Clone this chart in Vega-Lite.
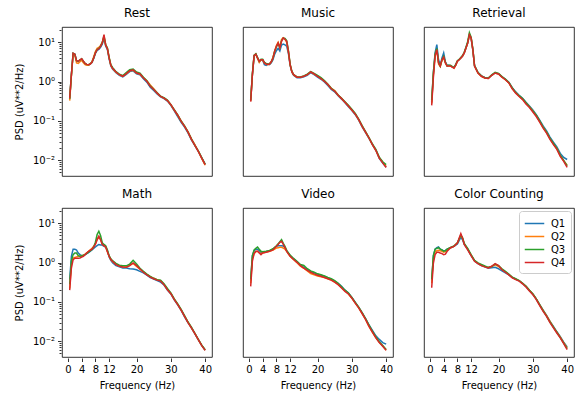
{
"$schema":"https://vega.github.io/schema/vega-lite/v6.json",
"padding":{"left":14,"top":6,"right":5,"bottom":5},
"data":{"values":[
{"p":"Rest","f":0.5,"Q1":0.36,"Q2":0.33,"Q3":0.37,"Q4":0.38},
{"p":"Rest","f":1,"Q1":1.5,"Q2":1.4,"Q3":1.5,"Q4":1.5},
{"p":"Rest","f":1.5,"Q1":5.2,"Q2":5.0,"Q3":5.3,"Q4":5.3},
{"p":"Rest","f":2,"Q1":5.0,"Q2":4.8,"Q3":5.0,"Q4":5.0},
{"p":"Rest","f":2.5,"Q1":3.4,"Q2":3.0,"Q3":3.4,"Q4":3.4},
{"p":"Rest","f":3,"Q1":3.2,"Q2":2.9,"Q3":3.3,"Q4":3.3},
{"p":"Rest","f":3.5,"Q1":3.5,"Q2":3.2,"Q3":3.6,"Q4":3.6},
{"p":"Rest","f":4,"Q1":3.7,"Q2":3.5,"Q3":3.8,"Q4":3.8},
{"p":"Rest","f":4.5,"Q1":3.2,"Q2":3.0,"Q3":3.3,"Q4":3.3},
{"p":"Rest","f":5,"Q1":2.8,"Q2":2.7,"Q3":2.9,"Q4":2.9},
{"p":"Rest","f":5.5,"Q1":2.7,"Q2":2.6,"Q3":2.75,"Q4":2.75},
{"p":"Rest","f":6,"Q1":2.65,"Q2":2.6,"Q3":2.7,"Q4":2.7},
{"p":"Rest","f":6.5,"Q1":2.8,"Q2":2.8,"Q3":2.85,"Q4":2.8},
{"p":"Rest","f":7,"Q1":3.1,"Q2":3.2,"Q3":3.1,"Q4":3.1},
{"p":"Rest","f":7.5,"Q1":3.9,"Q2":4.3,"Q3":4.0,"Q4":4.0},
{"p":"Rest","f":8,"Q1":5.2,"Q2":5.8,"Q3":5.4,"Q4":5.4},
{"p":"Rest","f":8.5,"Q1":6.2,"Q2":7.0,"Q3":6.6,"Q4":6.5},
{"p":"Rest","f":9,"Q1":6.6,"Q2":7.4,"Q3":7.0,"Q4":6.9},
{"p":"Rest","f":9.5,"Q1":7.5,"Q2":8.3,"Q3":8.0,"Q4":7.9},
{"p":"Rest","f":10,"Q1":9.0,"Q2":10.2,"Q3":9.8,"Q4":9.6},
{"p":"Rest","f":10.5,"Q1":12.5,"Q2":13.5,"Q3":14.5,"Q4":15.6},
{"p":"Rest","f":11,"Q1":8.0,"Q2":8.6,"Q3":8.8,"Q4":8.4},
{"p":"Rest","f":11.5,"Q1":6.5,"Q2":7.0,"Q3":7.2,"Q4":6.9},
{"p":"Rest","f":12,"Q1":3.8,"Q2":4.1,"Q3":4.1,"Q4":4.0},
{"p":"Rest","f":12.5,"Q1":2.5,"Q2":2.6,"Q3":2.7,"Q4":2.6},
{"p":"Rest","f":13,"Q1":2.1,"Q2":2.2,"Q3":2.3,"Q4":2.2},
{"p":"Rest","f":14,"Q1":1.7,"Q2":1.75,"Q3":1.8,"Q4":1.76},
{"p":"Rest","f":15,"Q1":1.45,"Q2":1.5,"Q3":1.55,"Q4":1.5},
{"p":"Rest","f":16,"Q1":1.32,"Q2":1.37,"Q3":1.42,"Q4":1.37},
{"p":"Rest","f":17,"Q1":1.52,"Q2":1.6,"Q3":1.7,"Q4":1.6},
{"p":"Rest","f":18,"Q1":1.8,"Q2":1.88,"Q3":2.0,"Q4":1.9},
{"p":"Rest","f":19,"Q1":1.88,"Q2":1.95,"Q3":2.1,"Q4":2.0},
{"p":"Rest","f":20,"Q1":1.58,"Q2":1.65,"Q3":1.75,"Q4":1.66},
{"p":"Rest","f":21,"Q1":1.5,"Q2":1.56,"Q3":1.65,"Q4":1.57},
{"p":"Rest","f":22,"Q1":1.18,"Q2":1.26,"Q3":1.3,"Q4":1.24},
{"p":"Rest","f":23,"Q1":0.97,"Q2":1.06,"Q3":1.05,"Q4":1.02},
{"p":"Rest","f":24,"Q1":0.72,"Q2":0.82,"Q3":0.78,"Q4":0.76},
{"p":"Rest","f":25,"Q1":0.6,"Q2":0.66,"Q3":0.64,"Q4":0.63},
{"p":"Rest","f":26,"Q1":0.49,"Q2":0.52,"Q3":0.52,"Q4":0.51},
{"p":"Rest","f":27,"Q1":0.41,"Q2":0.42,"Q3":0.43,"Q4":0.42},
{"p":"Rest","f":28,"Q1":0.37,"Q2":0.38,"Q3":0.39,"Q4":0.38},
{"p":"Rest","f":29,"Q1":0.32,"Q2":0.33,"Q3":0.34,"Q4":0.33},
{"p":"Rest","f":30,"Q1":0.25,"Q2":0.26,"Q3":0.26,"Q4":0.26},
{"p":"Rest","f":31,"Q1":0.18,"Q2":0.19,"Q3":0.195,"Q4":0.19},
{"p":"Rest","f":32,"Q1":0.13,"Q2":0.14,"Q3":0.142,"Q4":0.14},
{"p":"Rest","f":33,"Q1":0.093,"Q2":0.1,"Q3":0.1,"Q4":0.098},
{"p":"Rest","f":34,"Q1":0.07,"Q2":0.074,"Q3":0.075,"Q4":0.073},
{"p":"Rest","f":35,"Q1":0.05,"Q2":0.053,"Q3":0.053,"Q4":0.052},
{"p":"Rest","f":36,"Q1":0.033,"Q2":0.035,"Q3":0.035,"Q4":0.034},
{"p":"Rest","f":37,"Q1":0.024,"Q2":0.025,"Q3":0.024,"Q4":0.024},
{"p":"Rest","f":38,"Q1":0.017,"Q2":0.017,"Q3":0.0175,"Q4":0.017},
{"p":"Rest","f":39,"Q1":0.0116,"Q2":0.0112,"Q3":0.0118,"Q4":0.0114},
{"p":"Rest","f":40,"Q1":0.0079,"Q2":0.0075,"Q3":0.008,"Q4":0.0078},
{"p":"Music","f":0.5,"Q1":0.33,"Q2":0.32,"Q3":0.34,"Q4":0.31},
{"p":"Music","f":1,"Q1":1.5,"Q2":1.5,"Q3":1.6,"Q4":1.5},
{"p":"Music","f":1.5,"Q1":4.5,"Q2":4.6,"Q3":4.7,"Q4":4.6},
{"p":"Music","f":2,"Q1":5.0,"Q2":5.0,"Q3":5.1,"Q4":5.0},
{"p":"Music","f":2.5,"Q1":4.0,"Q2":3.9,"Q3":4.1,"Q4":4.0},
{"p":"Music","f":3,"Q1":3.2,"Q2":3.1,"Q3":3.3,"Q4":3.3},
{"p":"Music","f":3.5,"Q1":3.5,"Q2":3.6,"Q3":3.7,"Q4":3.6},
{"p":"Music","f":4,"Q1":3.5,"Q2":3.6,"Q3":3.7,"Q4":3.6},
{"p":"Music","f":4.5,"Q1":2.7,"Q2":3.0,"Q3":3.1,"Q4":3.0},
{"p":"Music","f":5,"Q1":2.6,"Q2":2.8,"Q3":2.9,"Q4":2.8},
{"p":"Music","f":5.5,"Q1":2.8,"Q2":2.7,"Q3":2.8,"Q4":2.75},
{"p":"Music","f":6,"Q1":2.7,"Q2":2.8,"Q3":2.85,"Q4":2.8},
{"p":"Music","f":6.5,"Q1":3.0,"Q2":3.2,"Q3":3.2,"Q4":3.2},
{"p":"Music","f":7,"Q1":3.6,"Q2":4.1,"Q3":4.0,"Q4":4.0},
{"p":"Music","f":7.5,"Q1":5.0,"Q2":6.0,"Q3":5.9,"Q4":5.9},
{"p":"Music","f":8,"Q1":6.1,"Q2":8.3,"Q3":7.6,"Q4":7.9},
{"p":"Music","f":8.5,"Q1":7.0,"Q2":10.0,"Q3":9.2,"Q4":9.6},
{"p":"Music","f":9,"Q1":6.0,"Q2":7.6,"Q3":7.4,"Q4":7.2},
{"p":"Music","f":9.5,"Q1":8.5,"Q2":11.8,"Q3":11.0,"Q4":10.6},
{"p":"Music","f":10,"Q1":9.0,"Q2":13.0,"Q3":12.8,"Q4":12.9},
{"p":"Music","f":10.5,"Q1":8.6,"Q2":12.0,"Q3":12.5,"Q4":12.0},
{"p":"Music","f":11,"Q1":8.0,"Q2":10.0,"Q3":11.0,"Q4":10.6},
{"p":"Music","f":11.5,"Q1":5.2,"Q2":5.8,"Q3":6.2,"Q4":5.9},
{"p":"Music","f":12,"Q1":2.6,"Q2":2.7,"Q3":2.8,"Q4":2.7},
{"p":"Music","f":12.5,"Q1":1.75,"Q2":1.8,"Q3":1.85,"Q4":1.8},
{"p":"Music","f":13,"Q1":1.45,"Q2":1.5,"Q3":1.52,"Q4":1.5},
{"p":"Music","f":14,"Q1":1.26,"Q2":1.3,"Q3":1.32,"Q4":1.3},
{"p":"Music","f":15,"Q1":1.26,"Q2":1.3,"Q3":1.32,"Q4":1.3},
{"p":"Music","f":16,"Q1":1.33,"Q2":1.38,"Q3":1.4,"Q4":1.37},
{"p":"Music","f":17,"Q1":1.45,"Q2":1.5,"Q3":1.55,"Q4":1.5},
{"p":"Music","f":18,"Q1":1.7,"Q2":1.78,"Q3":1.8,"Q4":1.76},
{"p":"Music","f":19,"Q1":1.5,"Q2":1.56,"Q3":1.62,"Q4":1.57},
{"p":"Music","f":20,"Q1":1.3,"Q2":1.38,"Q3":1.45,"Q4":1.37},
{"p":"Music","f":21,"Q1":1.15,"Q2":1.2,"Q3":1.26,"Q4":1.2},
{"p":"Music","f":22,"Q1":0.98,"Q2":1.04,"Q3":1.06,"Q4":1.02},
{"p":"Music","f":23,"Q1":0.8,"Q2":0.86,"Q3":0.86,"Q4":0.84},
{"p":"Music","f":24,"Q1":0.63,"Q2":0.68,"Q3":0.68,"Q4":0.66},
{"p":"Music","f":25,"Q1":0.55,"Q2":0.59,"Q3":0.58,"Q4":0.57},
{"p":"Music","f":26,"Q1":0.44,"Q2":0.46,"Q3":0.46,"Q4":0.45},
{"p":"Music","f":27,"Q1":0.36,"Q2":0.38,"Q3":0.38,"Q4":0.37},
{"p":"Music","f":28,"Q1":0.29,"Q2":0.3,"Q3":0.31,"Q4":0.3},
{"p":"Music","f":29,"Q1":0.23,"Q2":0.24,"Q3":0.25,"Q4":0.24},
{"p":"Music","f":30,"Q1":0.185,"Q2":0.19,"Q3":0.2,"Q4":0.19},
{"p":"Music","f":31,"Q1":0.145,"Q2":0.15,"Q3":0.155,"Q4":0.15},
{"p":"Music","f":32,"Q1":0.105,"Q2":0.108,"Q3":0.112,"Q4":0.108},
{"p":"Music","f":33,"Q1":0.071,"Q2":0.074,"Q3":0.076,"Q4":0.073},
{"p":"Music","f":34,"Q1":0.051,"Q2":0.052,"Q3":0.054,"Q4":0.052},
{"p":"Music","f":35,"Q1":0.036,"Q2":0.037,"Q3":0.038,"Q4":0.037},
{"p":"Music","f":36,"Q1":0.025,"Q2":0.025,"Q3":0.026,"Q4":0.025},
{"p":"Music","f":37,"Q1":0.018,"Q2":0.018,"Q3":0.019,"Q4":0.018},
{"p":"Music","f":38,"Q1":0.0112,"Q2":0.0116,"Q3":0.012,"Q4":0.0114},
{"p":"Music","f":39,"Q1":0.0086,"Q2":0.009,"Q3":0.0092,"Q4":0.0086},
{"p":"Music","f":40,"Q1":0.0068,"Q2":0.007,"Q3":0.0078,"Q4":0.0066},
{"p":"Retrieval","f":0.5,"Q1":0.3,"Q2":0.28,"Q3":0.34,"Q4":0.25},
{"p":"Retrieval","f":1,"Q1":1.7,"Q2":1.5,"Q3":1.7,"Q4":1.3},
{"p":"Retrieval","f":1.5,"Q1":5.5,"Q2":4.6,"Q3":5.0,"Q4":4.5},
{"p":"Retrieval","f":2,"Q1":8.7,"Q2":6.5,"Q3":7.0,"Q4":6.5},
{"p":"Retrieval","f":2.5,"Q1":3.6,"Q2":2.8,"Q3":3.1,"Q4":3.0},
{"p":"Retrieval","f":3,"Q1":2.6,"Q2":2.4,"Q3":2.5,"Q4":2.5},
{"p":"Retrieval","f":3.5,"Q1":4.0,"Q2":3.5,"Q3":3.6,"Q4":3.6},
{"p":"Retrieval","f":4,"Q1":5.4,"Q2":4.1,"Q3":4.4,"Q4":4.2},
{"p":"Retrieval","f":4.5,"Q1":3.2,"Q2":3.0,"Q3":3.1,"Q4":3.0},
{"p":"Retrieval","f":5,"Q1":2.6,"Q2":2.5,"Q3":2.5,"Q4":2.5},
{"p":"Retrieval","f":5.5,"Q1":2.6,"Q2":2.5,"Q3":2.6,"Q4":2.5},
{"p":"Retrieval","f":6,"Q1":2.5,"Q2":2.5,"Q3":2.6,"Q4":2.5},
{"p":"Retrieval","f":6.5,"Q1":2.4,"Q2":2.4,"Q3":2.4,"Q4":2.35},
{"p":"Retrieval","f":7,"Q1":2.3,"Q2":2.2,"Q3":2.3,"Q4":2.2},
{"p":"Retrieval","f":7.5,"Q1":2.7,"Q2":2.6,"Q3":2.7,"Q4":2.6},
{"p":"Retrieval","f":8,"Q1":3.3,"Q2":3.3,"Q3":3.4,"Q4":3.3},
{"p":"Retrieval","f":8.5,"Q1":3.6,"Q2":3.6,"Q3":3.7,"Q4":3.6},
{"p":"Retrieval","f":9,"Q1":4.0,"Q2":4.0,"Q3":4.1,"Q4":4.0},
{"p":"Retrieval","f":9.5,"Q1":4.5,"Q2":4.5,"Q3":4.6,"Q4":4.5},
{"p":"Retrieval","f":10,"Q1":5.4,"Q2":5.4,"Q3":5.6,"Q4":5.4},
{"p":"Retrieval","f":10.5,"Q1":7.2,"Q2":7.2,"Q3":7.5,"Q4":7.2},
{"p":"Retrieval","f":11,"Q1":9.6,"Q2":9.6,"Q3":10.5,"Q4":9.6},
{"p":"Retrieval","f":11.5,"Q1":15.0,"Q2":15.5,"Q3":17.5,"Q4":15.6},
{"p":"Retrieval","f":12,"Q1":12.5,"Q2":12.8,"Q3":13.5,"Q4":12.9},
{"p":"Retrieval","f":12.5,"Q1":6.3,"Q2":6.5,"Q3":6.8,"Q4":6.5},
{"p":"Retrieval","f":13,"Q1":2.5,"Q2":2.5,"Q3":2.6,"Q4":2.5},
{"p":"Retrieval","f":14,"Q1":1.7,"Q2":1.66,"Q3":1.7,"Q4":1.66},
{"p":"Retrieval","f":15,"Q1":1.4,"Q2":1.37,"Q3":1.4,"Q4":1.37},
{"p":"Retrieval","f":16,"Q1":1.28,"Q2":1.24,"Q3":1.26,"Q4":1.24},
{"p":"Retrieval","f":17,"Q1":1.22,"Q2":1.2,"Q3":1.24,"Q4":1.2},
{"p":"Retrieval","f":18,"Q1":1.45,"Q2":1.45,"Q3":1.5,"Q4":1.45},
{"p":"Retrieval","f":19,"Q1":1.66,"Q2":1.66,"Q3":1.72,"Q4":1.66},
{"p":"Retrieval","f":20,"Q1":1.58,"Q2":1.57,"Q3":1.62,"Q4":1.57},
{"p":"Retrieval","f":21,"Q1":1.33,"Q2":1.3,"Q3":1.34,"Q4":1.3},
{"p":"Retrieval","f":22,"Q1":1.15,"Q2":1.12,"Q3":1.16,"Q4":1.12},
{"p":"Retrieval","f":23,"Q1":0.97,"Q2":0.93,"Q3":0.96,"Q4":0.93},
{"p":"Retrieval","f":24,"Q1":0.7,"Q2":0.67,"Q3":0.69,"Q4":0.66},
{"p":"Retrieval","f":25,"Q1":0.55,"Q2":0.52,"Q3":0.53,"Q4":0.51},
{"p":"Retrieval","f":26,"Q1":0.45,"Q2":0.43,"Q3":0.44,"Q4":0.42},
{"p":"Retrieval","f":27,"Q1":0.38,"Q2":0.36,"Q3":0.37,"Q4":0.35},
{"p":"Retrieval","f":28,"Q1":0.3,"Q2":0.28,"Q3":0.29,"Q4":0.27},
{"p":"Retrieval","f":29,"Q1":0.24,"Q2":0.23,"Q3":0.23,"Q4":0.22},
{"p":"Retrieval","f":30,"Q1":0.19,"Q2":0.18,"Q3":0.18,"Q4":0.17},
{"p":"Retrieval","f":31,"Q1":0.145,"Q2":0.135,"Q3":0.14,"Q4":0.13},
{"p":"Retrieval","f":32,"Q1":0.105,"Q2":0.097,"Q3":0.1,"Q4":0.094},
{"p":"Retrieval","f":33,"Q1":0.075,"Q2":0.069,"Q3":0.07,"Q4":0.066},
{"p":"Retrieval","f":34,"Q1":0.056,"Q2":0.051,"Q3":0.052,"Q4":0.049},
{"p":"Retrieval","f":35,"Q1":0.039,"Q2":0.035,"Q3":0.036,"Q4":0.034},
{"p":"Retrieval","f":36,"Q1":0.029,"Q2":0.026,"Q3":0.027,"Q4":0.025},
{"p":"Retrieval","f":37,"Q1":0.022,"Q2":0.02,"Q3":0.02,"Q4":0.019},
{"p":"Retrieval","f":38,"Q1":0.015,"Q2":0.013,"Q3":0.0135,"Q4":0.0126},
{"p":"Retrieval","f":39,"Q1":0.0118,"Q2":0.0098,"Q3":0.01,"Q4":0.0094},
{"p":"Retrieval","f":40,"Q1":0.0105,"Q2":0.0075,"Q3":0.0072,"Q4":0.0066},
{"p":"Math","f":0.5,"Q1":0.37,"Q2":0.22,"Q3":0.28,"Q4":0.2},
{"p":"Math","f":1,"Q1":1.45,"Q2":0.9,"Q3":1.1,"Q4":0.73},
{"p":"Math","f":1.5,"Q1":2.2,"Q2":1.3,"Q3":1.6,"Q4":1.19},
{"p":"Math","f":2,"Q1":2.2,"Q2":1.35,"Q3":1.76,"Q4":1.3},
{"p":"Math","f":2.5,"Q1":2.1,"Q2":1.4,"Q3":1.76,"Q4":1.3},
{"p":"Math","f":3,"Q1":1.76,"Q2":1.45,"Q3":1.5,"Q4":1.3},
{"p":"Math","f":3.5,"Q1":1.6,"Q2":1.45,"Q3":1.45,"Q4":1.32},
{"p":"Math","f":4,"Q1":1.5,"Q2":1.5,"Q3":1.5,"Q4":1.39},
{"p":"Math","f":4.5,"Q1":1.52,"Q2":1.55,"Q3":1.55,"Q4":1.45},
{"p":"Math","f":5,"Q1":1.6,"Q2":1.65,"Q3":1.6,"Q4":1.6},
{"p":"Math","f":6,"Q1":1.8,"Q2":1.95,"Q3":1.85,"Q4":1.94},
{"p":"Math","f":7,"Q1":2.1,"Q2":2.3,"Q3":2.15,"Q4":2.2},
{"p":"Math","f":7.5,"Q1":2.3,"Q2":2.6,"Q3":2.5,"Q4":2.5},
{"p":"Math","f":8,"Q1":2.5,"Q2":3.0,"Q3":3.3,"Q4":2.9},
{"p":"Math","f":8.5,"Q1":2.7,"Q2":3.9,"Q3":5.2,"Q4":3.8},
{"p":"Math","f":9,"Q1":2.9,"Q2":4.6,"Q3":6.3,"Q4":4.7},
{"p":"Math","f":9.5,"Q1":2.8,"Q2":3.9,"Q3":4.9,"Q4":3.8},
{"p":"Math","f":10,"Q1":2.8,"Q2":3.0,"Q3":3.2,"Q4":2.9},
{"p":"Math","f":10.5,"Q1":2.6,"Q2":2.7,"Q3":2.9,"Q4":2.7},
{"p":"Math","f":11,"Q1":2.5,"Q2":2.5,"Q3":2.7,"Q4":2.5},
{"p":"Math","f":11.5,"Q1":2.0,"Q2":1.9,"Q3":2.1,"Q4":1.9},
{"p":"Math","f":12,"Q1":1.4,"Q2":1.45,"Q3":1.5,"Q4":1.45},
{"p":"Math","f":12.5,"Q1":1.15,"Q2":1.2,"Q3":1.25,"Q4":1.2},
{"p":"Math","f":13,"Q1":1.0,"Q2":1.08,"Q3":1.12,"Q4":1.08},
{"p":"Math","f":14,"Q1":0.84,"Q2":0.9,"Q3":0.96,"Q4":0.89},
{"p":"Math","f":15,"Q1":0.78,"Q2":0.82,"Q3":0.86,"Q4":0.81},
{"p":"Math","f":16,"Q1":0.73,"Q2":0.79,"Q3":0.83,"Q4":0.78},
{"p":"Math","f":17,"Q1":0.73,"Q2":0.77,"Q3":0.83,"Q4":0.76},
{"p":"Math","f":18,"Q1":0.7,"Q2":0.85,"Q3":0.92,"Q4":0.84},
{"p":"Math","f":19,"Q1":0.69,"Q2":0.96,"Q3":1.15,"Q4":0.98},
{"p":"Math","f":20,"Q1":0.66,"Q2":0.8,"Q3":0.92,"Q4":0.84},
{"p":"Math","f":21,"Q1":0.6,"Q2":0.68,"Q3":0.72,"Q4":0.69},
{"p":"Math","f":22,"Q1":0.55,"Q2":0.58,"Q3":0.6,"Q4":0.57},
{"p":"Math","f":23,"Q1":0.48,"Q2":0.5,"Q3":0.51,"Q4":0.49},
{"p":"Math","f":24,"Q1":0.42,"Q2":0.44,"Q3":0.45,"Q4":0.43},
{"p":"Math","f":25,"Q1":0.38,"Q2":0.4,"Q3":0.4,"Q4":0.39},
{"p":"Math","f":26,"Q1":0.35,"Q2":0.37,"Q3":0.37,"Q4":0.36},
{"p":"Math","f":27,"Q1":0.32,"Q2":0.35,"Q3":0.36,"Q4":0.34},
{"p":"Math","f":28,"Q1":0.27,"Q2":0.28,"Q3":0.29,"Q4":0.276},
{"p":"Math","f":29,"Q1":0.2,"Q2":0.21,"Q3":0.22,"Q4":0.205},
{"p":"Math","f":30,"Q1":0.16,"Q2":0.165,"Q3":0.17,"Q4":0.163},
{"p":"Math","f":31,"Q1":0.113,"Q2":0.118,"Q3":0.12,"Q4":0.115},
{"p":"Math","f":32,"Q1":0.085,"Q2":0.088,"Q3":0.09,"Q4":0.086},
{"p":"Math","f":33,"Q1":0.061,"Q2":0.063,"Q3":0.065,"Q4":0.062},
{"p":"Math","f":34,"Q1":0.042,"Q2":0.044,"Q3":0.045,"Q4":0.043},
{"p":"Math","f":35,"Q1":0.03,"Q2":0.031,"Q3":0.031,"Q4":0.03},
{"p":"Math","f":36,"Q1":0.022,"Q2":0.022,"Q3":0.023,"Q4":0.022},
{"p":"Math","f":37,"Q1":0.0156,"Q2":0.016,"Q3":0.016,"Q4":0.0156},
{"p":"Math","f":38,"Q1":0.011,"Q2":0.011,"Q3":0.0113,"Q4":0.011},
{"p":"Math","f":39,"Q1":0.0079,"Q2":0.008,"Q3":0.008,"Q4":0.0078},
{"p":"Math","f":40,"Q1":0.006,"Q2":0.006,"Q3":0.0061,"Q4":0.0059},
{"p":"Video","f":0.5,"Q1":0.35,"Q2":0.3,"Q3":0.38,"Q4":0.25},
{"p":"Video","f":1,"Q1":1.5,"Q2":1.3,"Q3":1.5,"Q4":1.1},
{"p":"Video","f":1.5,"Q1":2.0,"Q2":1.7,"Q3":2.1,"Q4":1.7},
{"p":"Video","f":2,"Q1":2.2,"Q2":1.9,"Q3":2.3,"Q4":1.94},
{"p":"Video","f":2.5,"Q1":2.2,"Q2":1.95,"Q3":2.5,"Q4":1.94},
{"p":"Video","f":3,"Q1":2.0,"Q2":1.8,"Q3":2.2,"Q4":1.76},
{"p":"Video","f":3.5,"Q1":1.8,"Q2":1.7,"Q3":1.95,"Q4":1.6},
{"p":"Video","f":4,"Q1":1.85,"Q2":1.75,"Q3":1.9,"Q4":1.76},
{"p":"Video","f":5,"Q1":1.9,"Q2":1.85,"Q3":1.95,"Q4":1.83},
{"p":"Video","f":6,"Q1":2.0,"Q2":1.95,"Q3":2.05,"Q4":1.94},
{"p":"Video","f":7,"Q1":2.2,"Q2":2.1,"Q3":2.25,"Q4":2.1},
{"p":"Video","f":8,"Q1":2.6,"Q2":2.35,"Q3":2.7,"Q4":2.6},
{"p":"Video","f":8.5,"Q1":2.7,"Q2":2.4,"Q3":3.0,"Q4":2.9},
{"p":"Video","f":9,"Q1":2.7,"Q2":2.45,"Q3":3.4,"Q4":3.3},
{"p":"Video","f":9.5,"Q1":2.7,"Q2":2.45,"Q3":3.85,"Q4":3.5},
{"p":"Video","f":10,"Q1":2.65,"Q2":2.35,"Q3":3.1,"Q4":2.9},
{"p":"Video","f":10.5,"Q1":2.4,"Q2":2.2,"Q3":2.6,"Q4":2.4},
{"p":"Video","f":11,"Q1":2.0,"Q2":1.95,"Q3":2.05,"Q4":1.94},
{"p":"Video","f":12,"Q1":1.5,"Q2":1.45,"Q3":1.55,"Q4":1.45},
{"p":"Video","f":13,"Q1":1.25,"Q2":1.2,"Q3":1.28,"Q4":1.2},
{"p":"Video","f":14,"Q1":1.05,"Q2":1.0,"Q3":1.08,"Q4":1.02},
{"p":"Video","f":15,"Q1":0.87,"Q2":0.82,"Q3":0.9,"Q4":0.84},
{"p":"Video","f":16,"Q1":0.76,"Q2":0.72,"Q3":0.85,"Q4":0.73},
{"p":"Video","f":17,"Q1":0.68,"Q2":0.62,"Q3":0.7,"Q4":0.64},
{"p":"Video","f":18,"Q1":0.6,"Q2":0.53,"Q3":0.62,"Q4":0.57},
{"p":"Video","f":19,"Q1":0.55,"Q2":0.49,"Q3":0.57,"Q4":0.52},
{"p":"Video","f":20,"Q1":0.51,"Q2":0.46,"Q3":0.52,"Q4":0.48},
{"p":"Video","f":21,"Q1":0.48,"Q2":0.44,"Q3":0.49,"Q4":0.45},
{"p":"Video","f":22,"Q1":0.45,"Q2":0.42,"Q3":0.46,"Q4":0.42},
{"p":"Video","f":23,"Q1":0.41,"Q2":0.39,"Q3":0.42,"Q4":0.39},
{"p":"Video","f":24,"Q1":0.38,"Q2":0.36,"Q3":0.39,"Q4":0.36},
{"p":"Video","f":25,"Q1":0.34,"Q2":0.32,"Q3":0.35,"Q4":0.32},
{"p":"Video","f":26,"Q1":0.3,"Q2":0.28,"Q3":0.3,"Q4":0.276},
{"p":"Video","f":27,"Q1":0.25,"Q2":0.235,"Q3":0.245,"Q4":0.226},
{"p":"Video","f":28,"Q1":0.2,"Q2":0.19,"Q3":0.2,"Q4":0.186},
{"p":"Video","f":29,"Q1":0.17,"Q2":0.16,"Q3":0.17,"Q4":0.16},
{"p":"Video","f":30,"Q1":0.13,"Q2":0.125,"Q3":0.13,"Q4":0.126},
{"p":"Video","f":31,"Q1":0.097,"Q2":0.094,"Q3":0.098,"Q4":0.094},
{"p":"Video","f":32,"Q1":0.073,"Q2":0.071,"Q3":0.074,"Q4":0.071},
{"p":"Video","f":33,"Q1":0.053,"Q2":0.051,"Q3":0.054,"Q4":0.051},
{"p":"Video","f":34,"Q1":0.038,"Q2":0.036,"Q3":0.038,"Q4":0.036},
{"p":"Video","f":35,"Q1":0.026,"Q2":0.024,"Q3":0.026,"Q4":0.024},
{"p":"Video","f":36,"Q1":0.019,"Q2":0.017,"Q3":0.018,"Q4":0.0171},
{"p":"Video","f":37,"Q1":0.0138,"Q2":0.0125,"Q3":0.013,"Q4":0.0122},
{"p":"Video","f":38,"Q1":0.0112,"Q2":0.0095,"Q3":0.0098,"Q4":0.0093},
{"p":"Video","f":39,"Q1":0.0093,"Q2":0.0076,"Q3":0.0078,"Q4":0.0075},
{"p":"Video","f":40,"Q1":0.0085,"Q2":0.006,"Q3":0.0062,"Q4":0.0059},
{"p":"Color Counting","f":0.5,"Q1":0.35,"Q2":0.3,"Q3":0.38,"Q4":0.23},
{"p":"Color Counting","f":1,"Q1":1.5,"Q2":1.3,"Q3":1.5,"Q4":0.98},
{"p":"Color Counting","f":1.5,"Q1":2.2,"Q2":1.9,"Q3":2.2,"Q4":1.6},
{"p":"Color Counting","f":2,"Q1":2.4,"Q2":2.0,"Q3":2.3,"Q4":1.83},
{"p":"Color Counting","f":2.5,"Q1":2.5,"Q2":2.05,"Q3":2.4,"Q4":1.83},
{"p":"Color Counting","f":3,"Q1":2.2,"Q2":2.0,"Q3":2.2,"Q4":1.76},
{"p":"Color Counting","f":3.5,"Q1":2.1,"Q2":1.95,"Q3":2.1,"Q4":1.7},
{"p":"Color Counting","f":4,"Q1":2.0,"Q2":1.85,"Q3":1.95,"Q4":1.6},
{"p":"Color Counting","f":4.5,"Q1":2.05,"Q2":1.9,"Q3":2.0,"Q4":1.65},
{"p":"Color Counting","f":5,"Q1":2.2,"Q2":2.1,"Q3":2.2,"Q4":1.94},
{"p":"Color Counting","f":6,"Q1":2.4,"Q2":2.4,"Q3":2.45,"Q4":2.4},
{"p":"Color Counting","f":7,"Q1":2.6,"Q2":2.6,"Q3":2.65,"Q4":2.6},
{"p":"Color Counting","f":8,"Q1":3.0,"Q2":3.2,"Q3":3.2,"Q4":3.15},
{"p":"Color Counting","f":8.5,"Q1":3.6,"Q2":4.0,"Q3":4.0,"Q4":4.2},
{"p":"Color Counting","f":9,"Q1":4.4,"Q2":5.0,"Q3":5.0,"Q4":5.5},
{"p":"Color Counting","f":9.5,"Q1":3.8,"Q2":4.2,"Q3":4.3,"Q4":4.2},
{"p":"Color Counting","f":10,"Q1":2.9,"Q2":3.0,"Q3":3.1,"Q4":2.9},
{"p":"Color Counting","f":11,"Q1":2.2,"Q2":2.2,"Q3":2.3,"Q4":2.1},
{"p":"Color Counting","f":12,"Q1":1.5,"Q2":1.55,"Q3":1.6,"Q4":1.5},
{"p":"Color Counting","f":13,"Q1":1.1,"Q2":1.12,"Q3":1.15,"Q4":1.08},
{"p":"Color Counting","f":14,"Q1":0.94,"Q2":0.96,"Q3":0.99,"Q4":0.94},
{"p":"Color Counting","f":15,"Q1":0.84,"Q2":0.86,"Q3":0.9,"Q4":0.84},
{"p":"Color Counting","f":16,"Q1":0.78,"Q2":0.8,"Q3":0.82,"Q4":0.78},
{"p":"Color Counting","f":17,"Q1":0.72,"Q2":0.74,"Q3":0.76,"Q4":0.73},
{"p":"Color Counting","f":18,"Q1":0.74,"Q2":0.8,"Q3":0.8,"Q4":0.81},
{"p":"Color Counting","f":19,"Q1":0.76,"Q2":0.88,"Q3":0.92,"Q4":0.94},
{"p":"Color Counting","f":20,"Q1":0.7,"Q2":0.8,"Q3":0.84,"Q4":0.84},
{"p":"Color Counting","f":21,"Q1":0.62,"Q2":0.67,"Q3":0.7,"Q4":0.66},
{"p":"Color Counting","f":22,"Q1":0.55,"Q2":0.58,"Q3":0.6,"Q4":0.57},
{"p":"Color Counting","f":23,"Q1":0.49,"Q2":0.5,"Q3":0.51,"Q4":0.49},
{"p":"Color Counting","f":24,"Q1":0.42,"Q2":0.42,"Q3":0.43,"Q4":0.41},
{"p":"Color Counting","f":25,"Q1":0.38,"Q2":0.38,"Q3":0.39,"Q4":0.37},
{"p":"Color Counting","f":26,"Q1":0.35,"Q2":0.35,"Q3":0.35,"Q4":0.34},
{"p":"Color Counting","f":27,"Q1":0.3,"Q2":0.3,"Q3":0.3,"Q4":0.29},
{"p":"Color Counting","f":28,"Q1":0.25,"Q2":0.25,"Q3":0.25,"Q4":0.24},
{"p":"Color Counting","f":29,"Q1":0.2,"Q2":0.2,"Q3":0.2,"Q4":0.19},
{"p":"Color Counting","f":30,"Q1":0.16,"Q2":0.16,"Q3":0.16,"Q4":0.154},
{"p":"Color Counting","f":31,"Q1":0.12,"Q2":0.12,"Q3":0.12,"Q4":0.115},
{"p":"Color Counting","f":32,"Q1":0.086,"Q2":0.085,"Q3":0.085,"Q4":0.081},
{"p":"Color Counting","f":33,"Q1":0.062,"Q2":0.061,"Q3":0.06,"Q4":0.058},
{"p":"Color Counting","f":34,"Q1":0.046,"Q2":0.045,"Q3":0.044,"Q4":0.043},
{"p":"Color Counting","f":35,"Q1":0.032,"Q2":0.032,"Q3":0.031,"Q4":0.03},
{"p":"Color Counting","f":36,"Q1":0.024,"Q2":0.023,"Q3":0.023,"Q4":0.022},
{"p":"Color Counting","f":37,"Q1":0.0175,"Q2":0.017,"Q3":0.017,"Q4":0.0163},
{"p":"Color Counting","f":38,"Q1":0.0132,"Q2":0.0128,"Q3":0.0125,"Q4":0.0122},
{"p":"Color Counting","f":39,"Q1":0.0095,"Q2":0.0092,"Q3":0.009,"Q4":0.0087},
{"p":"Color Counting","f":40,"Q1":0.0072,"Q2":0.0068,"Q3":0.0065,"Q4":0.0062}
]},
"transform":[{"fold":["Q1","Q2","Q3","Q4"],"as":["quarter","psd"]}],
"facet":{"field":"p","type":"nominal","sort":["Rest","Music","Retrieval","Math","Video","Color Counting"],
 "header":{"title":null,"labelFontSize":12,"labelFont":"DejaVu Sans","labelColor":"black","labelPadding":7}},
"columns":3,
"spacing":{"row":10,"column":29},
"spec":{
 "width":150,"height":149,
 "mark":{"type":"line","strokeWidth":1.5,"clip":true},
 "encoding":{
  "x":{"field":"f","type":"quantitative","scale":{"domain":[-1.74,42],"nice":false,"zero":false},
   "axis":{"values":[0,4,8,12,20,30,40],"title":"Frequency (Hz)","labelFlush":false,"tickSize":3.5,"labelPadding":3,"titlePadding":6}},
  "y":{"field":"psd","type":"quantitative","scale":{"type":"log","domain":[0.004,24.5],"nice":false},
   "axis":{"title":"PSD (uV**2/Hz)","values":[0.005,0.006,0.007,0.008,0.009,0.01,0.02,0.03,0.04,0.05,0.06,0.07,0.08,0.09,0.1,0.2,0.3,0.4,0.5,0.6,0.7,0.8,0.9,1,2,3,4,5,6,7,8,9,10,20],
    "labelExpr":"datum.value==10?'10¹':datum.value==1?'10⁰':datum.value==0.1?'10⁻¹':datum.value==0.01?'10⁻²':''",
    "labelOverlap":false,"labelPadding":3,"titlePadding":8,
    "tickSize":{"condition":{"test":"datum.value==10||datum.value==1||datum.value==0.1||datum.value==0.01","value":3.5},"value":2}}},
  "color":{"field":"quarter","type":"nominal","scale":{"domain":["Q1","Q2","Q3","Q4"],"range":["#1f77b4","#ff7f0e","#2ca02c","#d62728"]},
   "legend":{"orient":"none","legendX":457,"legendY":184,"title":null,"symbolType":"M-1.5,0H1.5","symbolSize":169,"symbolStrokeWidth":1.5,"symbolOffset":3,"labelFontSize":10,"labelFont":"DejaVu Sans","labelColor":"black","strokeColor":"#cccccc","fillColor":"white","padding":5,"cornerRadius":3,"rowPadding":0,"labelOffset":9}}
 }
},
"config":{
 "font":"DejaVu Sans",
 "view":{"stroke":"black","strokeWidth":0.8},
 "axis":{"domain":false,"grid":false,"tickColor":"black","tickWidth":0.8,"labelColor":"black","labelFontSize":10,"labelFont":"DejaVu Sans","titleFontSize":10,"titleFont":"DejaVu Sans","titleFontWeight":"normal","titleColor":"black"}
}
}
